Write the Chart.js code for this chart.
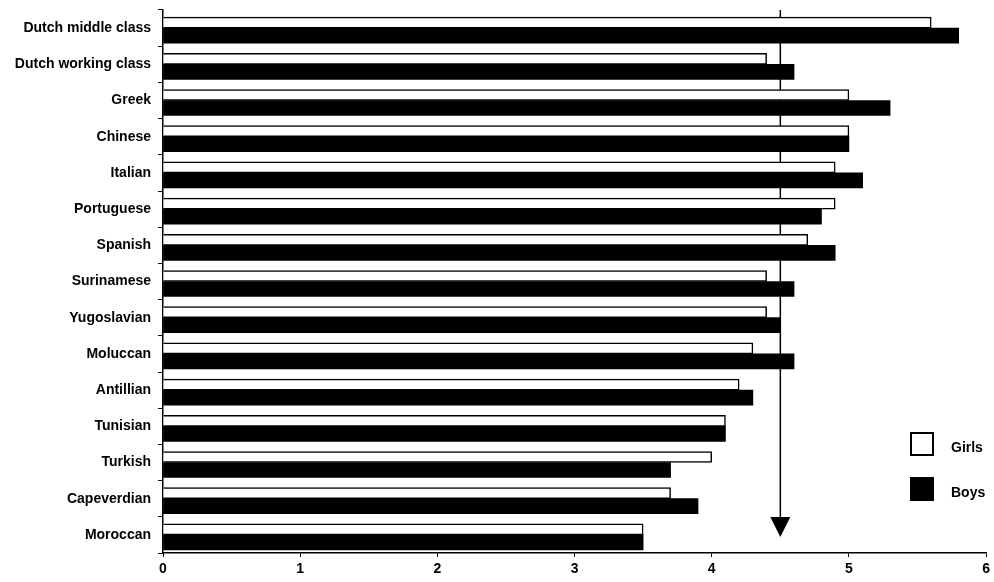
<!DOCTYPE html>
<html>
<head>
<meta charset="utf-8">
<script src="https://cdn.jsdelivr.net/npm/chart.js@4"></script>
<style>
  html, body { margin: 0; padding: 0; background: #fff; }
  #wrap { width: 994px; height: 582px; }
</style>
</head>
<body>
<div id="wrap"><canvas id="chart"></canvas></div>
<script>
// values
const groups = ['Dutch middle class', 'Dutch working class', 'Greek', 'Chinese', 'Italian',
  'Portuguese', 'Spanish', 'Surinamese', 'Yugoslavian', 'Moluccan', 'Antillian',
  'Tunisian', 'Turkish', 'Capeverdian', 'Moroccan'];
const girls = [5.6, 4.4, 5.0, 5.0, 4.9, 4.9, 4.7, 4.4, 4.4, 4.3, 4.2, 4.1, 4.0, 3.7, 3.5];
const boys  = [5.8, 4.6, 5.3, 5.0, 5.1, 4.8, 4.9, 4.6, 4.5, 4.6, 4.3, 4.1, 3.7, 3.9, 3.5];
const xTicks = [0, 1, 2, 3, 4, 5, 6];
const refValue = 4.5;

const font = "'Liberation Sans', Arial, sans-serif";

// vertical reference line with arrow head, plus the legend box in the corner
const extras = {
    id: 'extras',
    beforeDatasetsDraw(chart) {
        const c = chart.ctx;
        const x = chart.scales.x.getPixelForValue(refValue);
        c.save();
        c.strokeStyle = '#000';
        c.lineWidth = 1.5;
        c.beginPath();
        c.moveTo(x, chart.chartArea.top);
        c.lineTo(x, 520);
        c.stroke();
        c.restore();
    },
    afterDraw(chart) {
        const c = chart.ctx;
        const x = chart.scales.x.getPixelForValue(refValue);
        c.save();
        c.fillStyle = '#000';
        c.beginPath();
        c.moveTo(x - 10, 517);
        c.lineTo(x + 10, 517);
        c.lineTo(x, 537);
        c.closePath();
        c.fill();

        const items = chart.data.datasets;
        const rows = [444, 489];
        c.font = 'bold 14px ' + font;
        c.textBaseline = 'middle';
        items.forEach((ds, i) => {
            const y = rows[i];
            c.fillStyle = ds.backgroundColor;
            c.fillRect(911, y - 11, 22, 22);
            c.strokeStyle = '#000';
            c.lineWidth = 2;
            c.strokeRect(911, y - 11, 22, 22);
            c.fillStyle = '#000';
            c.fillText(ds.label, 951, y + 4);
        });
        c.restore();
    }
};

new Chart(document.getElementById('chart'), {
    type: 'bar',
    data: {
        labels: groups,
        datasets: [{
            label: 'Girls',
            data: girls,
            backgroundColor: '#fff',
            borderColor: '#000',
            borderWidth: 1.5,
            barThickness: 11
        }, {
            label: 'Boys',
            data: boys,
            backgroundColor: '#000',
            borderColor: '#000',
            borderWidth: 0,
            barThickness: 15
        }]
    },
    options: {
        indexAxis: 'y',
        responsive: true,
        maintainAspectRatio: false,
        animation: false,
        layout: {
            padding: { top: 10, right: 6, left: 0, bottom: 0 }
        },
        plugins: {
            legend: { display: false },
            tooltip: { enabled: false }
        },
        scales: {
            x: {
                min: xTicks[0],
                max: xTicks[xTicks.length - 1],
                afterBuildTicks(scale) {
                    scale.ticks = xTicks.map(v => ({ value: v }));
                },
                afterFit(scale) {
                    scale.height = 29;
                },
                border: { color: '#000', width: 1.5 },
                grid: { drawOnChartArea: false, color: '#000', tickLength: 4 },
                ticks: {
                    color: '#000',
                    padding: 4,
                    font: { family: font, size: 14, weight: 'bold' }
                }
            },
            y: {
                afterFit(scale) {
                    scale.width = 163;
                    scale.paddingTop = 0;
                    scale.paddingBottom = 0;
                },
                border: { color: '#000', width: 1.5 },
                grid: { drawOnChartArea: false, color: '#000', tickLength: 5, offset: true },
                ticks: {
                    color: '#000',
                    padding: 7,
                    font: { family: font, size: 14, weight: 'bold' }
                }
            }
        }
    },
    plugins: [extras]
});
</script>
</body>
</html>
